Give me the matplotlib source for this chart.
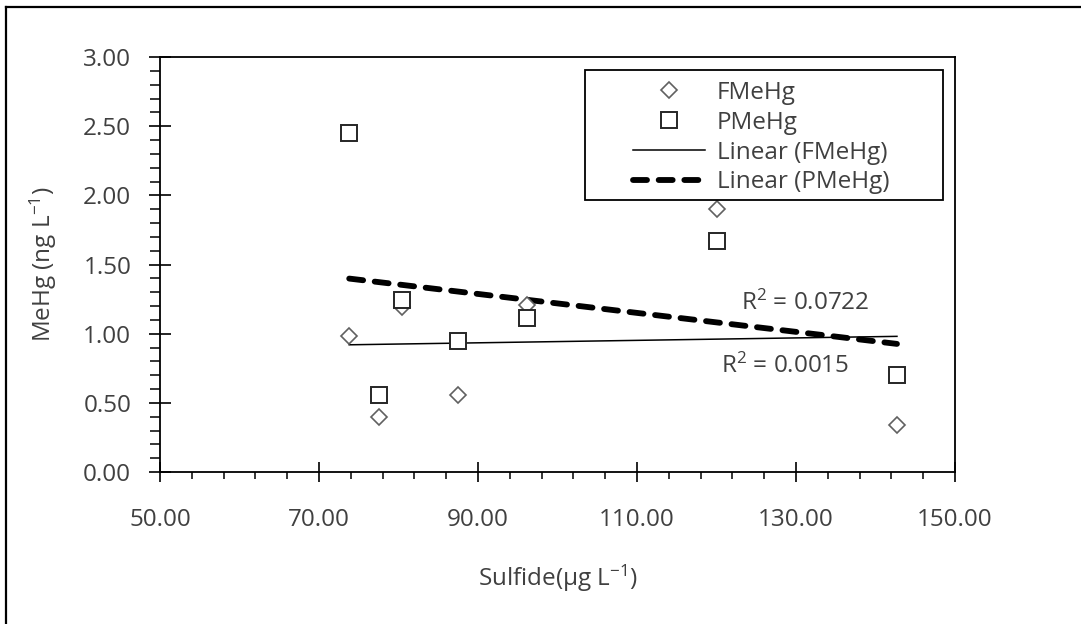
import numpy as np
import matplotlib
matplotlib.use("Agg")
import matplotlib.pyplot as plt
from matplotlib.lines import Line2D
from matplotlib.patches import Rectangle
from matplotlib.ticker import FixedLocator, MultipleLocator, FormatStrFormatter

# ---------------- data ----------------
sulfide = [73.8, 77.6, 80.4, 87.5, 96.2, 120.0, 142.7]
fmehg = [0.98, 0.40, 1.19, 0.56, 1.21, 1.90, 0.34]
pmehg = [2.45, 0.555, 1.24, 0.95, 1.115, 1.67, 0.70]
r2_labels = ["R$^2$ = 0.0722", "R$^2$ = 0.0015"]
r2_pos = [(131.1, 1.216), (128.6, 0.763)]
series_names = ["FMeHg", "PMeHg", "Linear (FMeHg)", "Linear (PMeHg)"]
x_ticks = [50, 70, 90, 110, 130, 150]
x_label = "Sulfide(\u00b5g L$^{-1}$)"
y_label = "MeHg (ng L$^{-1}$)"

# ---------------- style ----------------
plt.rcParams['font.family'] = ['Open Sans', 'DejaVu Sans']
plt.rcParams['mathtext.fontset'] = 'custom'
plt.rcParams['mathtext.rm'] = 'Open Sans'
plt.rcParams['mathtext.it'] = 'Open Sans:italic'
plt.rcParams['mathtext.bf'] = 'Open Sans:bold'
txt = '#404040'
FS = 17.5

fig = plt.figure(figsize=(10.81, 6.24), dpi=100)
W, H = 1081, 624
L, R, T, B = 160, 955, 57, 472
ax = fig.add_axes([L / W, 1 - B / H, (R - L) / W, (B - T) / H])

x = np.array(sulfide)
yf = np.array(fmehg)
yp = np.array(pmehg)

ax.plot(x, yf, linestyle='none', marker='D', markersize=7.8,
        markerfacecolor='white', markeredgecolor='#606060', markeredgewidth=1.2,
        label=series_names[0], zorder=3)
ax.plot(x, yp, linestyle='none', marker='s', markersize=11,
        markerfacecolor='white', markeredgecolor='#262626', markeredgewidth=1.4,
        label=series_names[1], zorder=3)

xr = np.array([x.min(), x.max()])
cf = np.polyfit(x, yf, 1)
cp = np.polyfit(x, yp, 1)
ax.plot(xr, np.polyval(cf, xr), color='black', lw=1.1, label=series_names[2], zorder=2)
ax.plot(xr, np.polyval(cp, xr), color='black', lw=4.2, dashes=(2.4, 2.0),
        dash_capstyle='round', label=series_names[3], zorder=2)

for s, (px, py) in zip(r2_labels, r2_pos):
    ax.text(px, py, s, ha='center', va='center', fontsize=FS, color=txt)

ax.set_xlim(50, 150)
ax.set_ylim(0, 3)
ax.xaxis.set_major_locator(FixedLocator(x_ticks))
ax.xaxis.set_minor_locator(FixedLocator(np.arange(50, 151, 4)))
ax.yaxis.set_major_locator(MultipleLocator(0.5))
ax.yaxis.set_minor_locator(MultipleLocator(0.1))
ax.xaxis.set_major_formatter(FormatStrFormatter('%.2f'))
ax.yaxis.set_major_formatter(FormatStrFormatter('%.2f'))

ax.tick_params(axis='x', which='major', direction='inout', length=14.4, width=1.2,
               pad=19, labelsize=FS, labelcolor=txt)
ax.tick_params(axis='x', which='minor', direction='out', length=5, width=1.1)
ax.tick_params(axis='y', which='major', direction='inout', length=15.5, width=1.2,
               pad=13, labelsize=FS, labelcolor=txt)
ax.tick_params(axis='y', which='minor', direction='out', length=7, width=1.1)
for sp in ax.spines.values():
    sp.set_linewidth(1.3)
    sp.set_color('black')

ax.set_xlabel(x_label, fontsize=FS, color=txt)
ax.set_ylabel(y_label, fontsize=FS, color=txt)
ax.xaxis.label.set_va('center')
ax.xaxis.set_label_coords(0.5, (B - 578) / (B - T))
ax.yaxis.label.set_va('center')
ax.yaxis.set_label_coords((43 - L) / (R - L), 0.5)

leg = ax.legend(loc='upper left',
                bbox_to_anchor=((633 - L) / (R - L), (B - 81) / (B - T)),
                frameon=False, fontsize=FS, borderpad=0, borderaxespad=0,
                handlelength=2.95, handletextpad=0.5, labelspacing=0.24,
                numpoints=1)
for t in leg.get_texts():
    t.set_color(txt)

ax.add_patch(Rectangle(((585 - L) / (R - L), (B - 200) / (B - T)),
                       (943 - 585) / (R - L), (200 - 70) / (B - T),
                       transform=ax.transAxes, facecolor='none',
                       edgecolor='black', lw=1.3, zorder=5, clip_on=False))

# outer border (top and left visible)
fig.add_artist(Line2D([6 / W, 1], [1 - 7 / H, 1 - 7 / H], color='black', lw=1.6,
                      transform=fig.transFigure))
fig.add_artist(Line2D([6 / W, 6 / W], [0, 1 - 7 / H], color='black', lw=1.6,
                      transform=fig.transFigure))

fig.savefig('out.png', dpi=100)
